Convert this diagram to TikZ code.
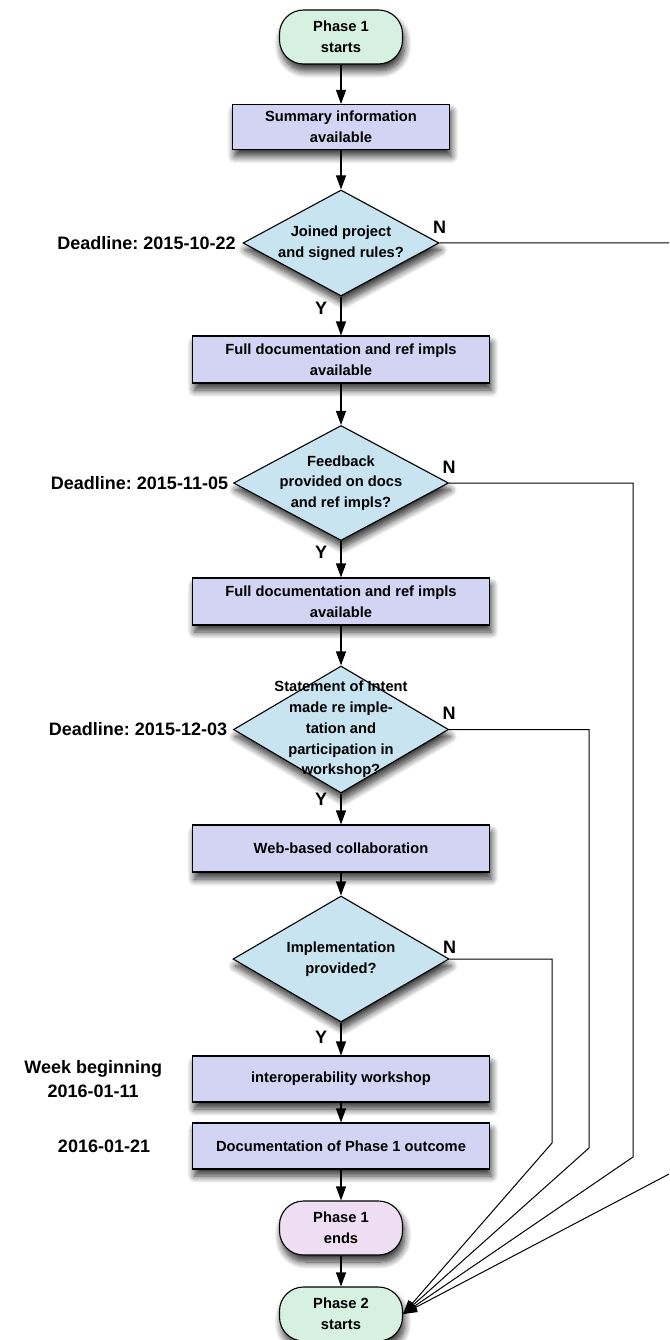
\documentclass[tikz,border=0pt]{standalone}
\usepackage{fontspec}
\setmainfont{Liberation Sans}
\frenchspacing
\usetikzlibrary{positioning,shapes.geometric,arrows.meta,shadows.blur}

\definecolor{termgreen}{RGB}{214,241,226}
\definecolor{termpink}{RGB}{238,221,243}
\definecolor{boxblue}{RGB}{211,212,243}
\definecolor{decblue}{RGB}{200,228,240}

\tikzset{every picture/.style={line width=1.1pt}}
\tikzset{
  base/.style={draw=black, font=\fontsize{14.7}{20.7}\selectfont\bfseries, align=center, inner sep=0pt,
    blur shadow={shadow xshift=2pt, shadow yshift=-7pt, shadow blur radius=7pt, shadow blur steps=10, shadow opacity=80}},
  term/.style={base, rectangle, rounded corners=24pt, minimum width=123pt, minimum height=54pt},
  procbox/.style={base, rectangle, fill=boxblue, minimum width=297pt, minimum height=47pt},
  decision/.style={base, diamond, fill=decblue},
  qtext/.style={font=\fontsize{14.7}{20.7}\selectfont\bfseries, align=center, inner sep=0pt},
  side/.style={font=\fontsize{18}{24}\selectfont\bfseries, align=center},
  yn/.style={font=\fontsize{18}{20}\selectfont\bfseries},
  flow/.style={-{Triangle[length=14pt,width=10pt]}},
  nopath/.style={-{Triangle[length=14pt,width=10pt]}, line width=1pt}
}

\begin{document}
\begin{tikzpicture}[x=1pt,y=1pt,yscale=-1,xscale=1]
\useasboundingbox (0,0) rectangle (669,1340);
\clip (0,0) rectangle (669,1340);

% boxes of the main column
\node[term, fill=termgreen] (p1s) at (341,37) {Phase 1\\starts};
\node[procbox, minimum width=217pt, minimum height=45pt] (summ) at (341,127) {Summary information\\available};
\node[decision, minimum width=196pt, minimum height=106pt,
  label={[qtext]center:{Joined project\\and signed rules?}}] (dec1) at (341,243) {};
\node[procbox] (full1) at (341,359.5) {Full documentation and ref impls\\available};
\node[decision, minimum width=215pt, minimum height=115pt,
  label={[qtext]center:{Feedback\\provided on docs\\and ref impls?}}] (dec2) at (341,483) {};
\node[procbox] (full2) at (341,601.5) {Full documentation and ref impls\\available};
\node[decision, minimum width=215pt, minimum height=127pt,
  label={[qtext]center:{Statement of Intent\\made re imple-\\tation and\\participation in\\workshop?}}] (dec3) at (341,729.5) {};
\node[procbox] (web) at (341,848.5) {Web-based collaboration};
\node[decision, minimum width=216pt, minimum height=126pt,
  label={[qtext]center:{Implementation\\provided?}}] (dec4) at (341,959) {};
\node[procbox, minimum height=46pt] (work) at (341,1079) {interoperability workshop};
\node[procbox, minimum height=46pt] (outc) at (341,1146) {Documentation of Phase 1 outcome};
\node[term, fill=termpink] (p1e) at (341,1228) {Phase 1\\ends};
\node[term, fill=termgreen] (p2s) at (341,1314) {Phase 2\\starts};

% dates on the left
\node[side, left=3pt of dec1] (dl1) {Deadline: 2015-10-22};
\node[side, left=1pt of dec2] (dl2) {Deadline: 2015-11-05};
\node[side, left=2pt of dec3] (dl3) {Deadline: 2015-12-03};
\node[side, left=26pt of work] (wk) {Week beginning\\2016-01-11};
\node[side, left=38pt of outc] (dt) {2016-01-21};

% yes path
\draw[flow] (p1s) -- (summ);
\draw[flow] (summ) -- (dec1);
\draw[flow] (dec1) -- node[yn, pos=0.3, left=10pt] {Y} (full1);
\draw[flow] (full1) -- (dec2);
\draw[flow] (dec2) -- node[yn, pos=0.3, left=10pt] {Y} (full2);
\draw[flow] (full2) -- (dec3);
\draw[flow] (dec3) -- node[yn, pos=0.2, left=10pt] {Y} (web);
\draw[flow] (web) -- (dec4);
\draw[flow] (dec4) -- node[yn, pos=0.45, left=10pt] {Y} (work);
\draw[flow] (work) -- (outc);
\draw[flow] (outc) -- (p1e);
\draw[flow] (p1e) -- (p2s);

% no paths
\coordinate (bend1) at (690,1163);
\coordinate (bend2) at (633,1157);
\coordinate (bend3) at (589,1148);
\coordinate (bend4) at (552,1143);
\draw[nopath] (dec1.east) node[yn, anchor=south, yshift=6pt] {N} -| (bend1) -- (p2s.east);
\draw[nopath] (dec2.east) node[yn, anchor=south, yshift=6pt] {N} -| (bend2) -- (p2s.east);
\draw[nopath] (dec3.east) node[yn, anchor=south, yshift=6pt] {N} -| (bend3) -- (p2s.east);
\draw[nopath] (dec4.east) node[yn, anchor=south, yshift=2pt] {N} -| (bend4) -- (p2s.east);

\end{tikzpicture}
\end{document}
